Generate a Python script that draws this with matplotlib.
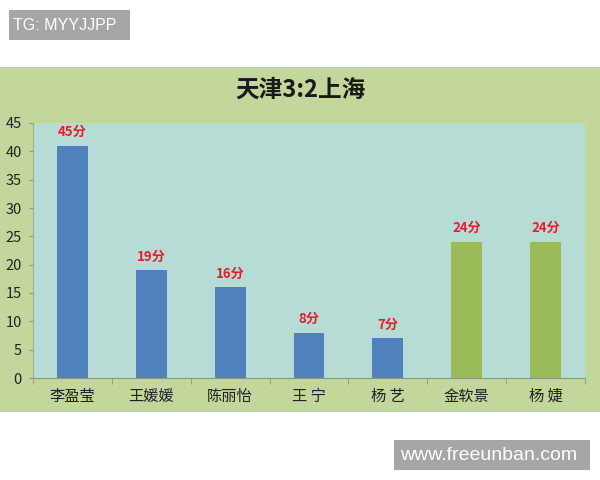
import matplotlib
matplotlib.use("Agg")
import matplotlib.pyplot as plt
from matplotlib.patches import Rectangle

plt.rcParams['font.family'] = ['Noto Sans CJK SC', 'DejaVu Sans']

players = ['李盈莹', '王媛媛', '陈丽怡', '王 宁', '杨 艺', '金软景', '杨 婕']
bar_values = [41, 19, 16, 8, 7, 24, 24]
label_points = [45, 19, 16, 8, 7, 24, 24]
teams = ['天津', '天津', '天津', '天津', '天津', '上海', '上海']
title = '天津3:2上海'
yticks = [0, 5, 10, 15, 20, 25, 30, 35, 40, 45]

team_colors = {'天津': '#4f81bd', '上海': '#9bbb59'}

W, H = 600, 480
fig = plt.figure(figsize=(6, 4.8), dpi=100)
fig.patch.set_facecolor('white')


def px_rect(x0, y0, x1, y1, color, z=-5):
    r = Rectangle((x0 / W, 1 - y1 / H), (x1 - x0) / W, (y1 - y0) / H,
                  transform=fig.transFigure, facecolor=color, edgecolor='none', zorder=z)
    fig.add_artist(r)


# outer green chart background
px_rect(0, 67, 600, 412, '#c3d69b')

ax = fig.add_axes([33 / W, 1 - 378 / H, 552 / W, 255 / H])
ax.set_zorder(2)
ax.set_facecolor('#b7dcd6')

x = list(range(len(players)))
colors = [team_colors[t] for t in teams]
ax.bar(x, bar_values, width=0.39, color=colors, zorder=3)

for xi, v, lp in zip(x, bar_values, label_points):
    ax.annotate(f'{lp}分', (xi, v), xytext=(0, 5), textcoords='offset points',
                ha='center', va='bottom', color='#e0202a', fontsize=9.5, fontweight='bold')

ax.set_xlim(-0.5, len(players) - 0.5)
ax.set_ylim(0, 45)
ax.set_yticks(yticks)
ax.set_yticklabels([str(t) for t in yticks], fontsize=10.5, color='#222222')
ax.set_xticks(x)
ax.set_xticklabels(players, fontsize=11, color='#222222')
ax.tick_params(axis='x', length=0, pad=7)
ax.set_xticks([i - 0.5 for i in range(len(players) + 1)], minor=True)
ax.tick_params(axis='x', which='minor', length=4, color='#8a9a80')
ax.tick_params(axis='y', length=3, color='#8a9a80', pad=5)

for s in ['top', 'right']:
    ax.spines[s].set_visible(False)
ax.spines['left'].set_color('#a0b090')
ax.spines['bottom'].set_color('#8a9a80')

fig.text(0.5, 1 - 90 / H, title, ha='center', va='center', fontsize=17,
         fontweight='bold', color='#1a1a1a')

# watermark boxes
px_rect(9, 10, 130, 40, '#a6a6a6', z=5)
fig.text(13 / W, 1 - 25 / H, 'TG: MYYJJPP', ha='left', va='center', fontsize=11.5,
         color='white', family='Liberation Sans', zorder=6)
px_rect(394, 440, 590, 470, '#a6a6a6', z=5)
fig.text(400 / W, 1 - 455 / H, 'www.freeunban.com', ha='left', va='center', fontsize=14,
         color='white', family='Liberation Sans', zorder=6)

fig.savefig('out.png', dpi=100)
